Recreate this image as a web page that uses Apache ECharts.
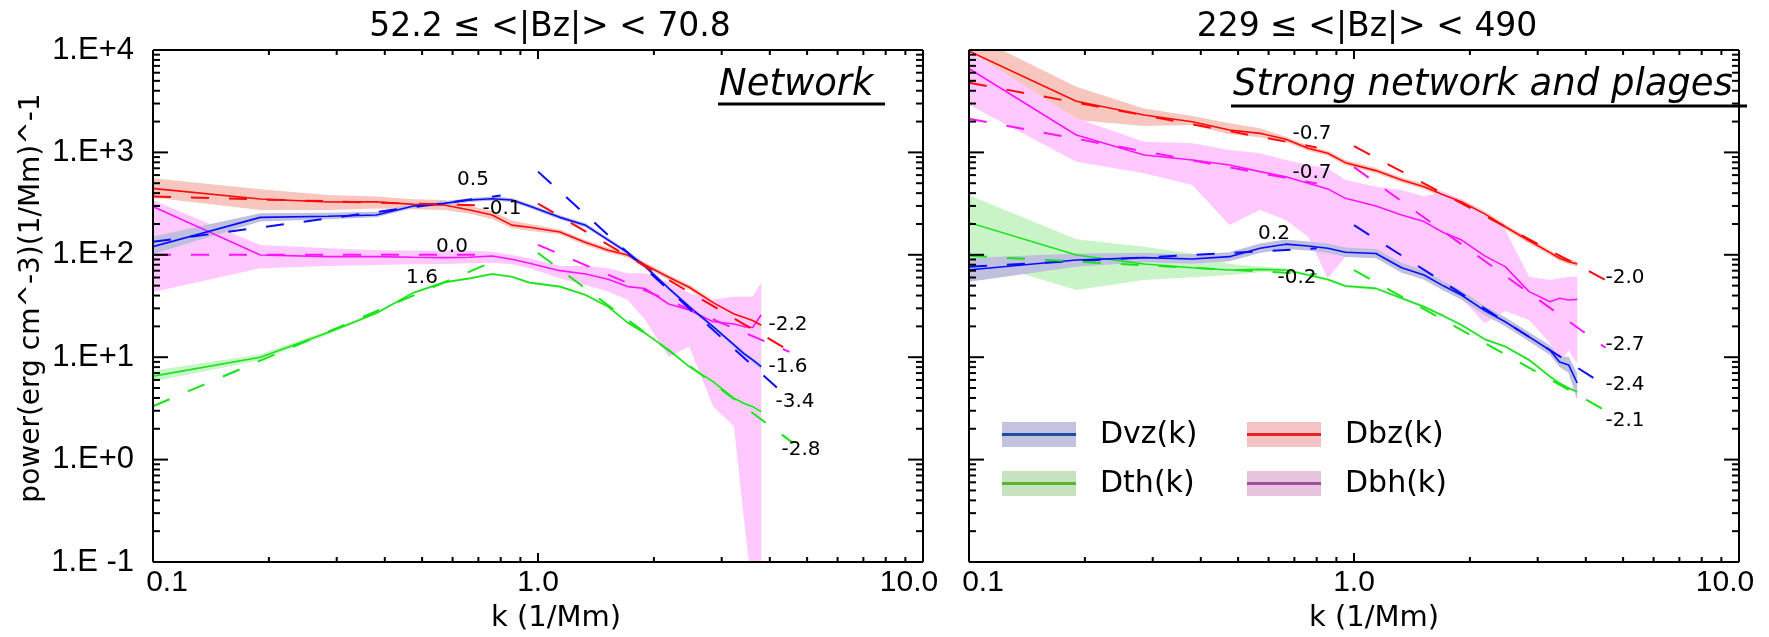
<!DOCTYPE html>
<html>
<head>
<meta charset="utf-8">
<script src="https://cdn.jsdelivr.net/npm/echarts@6/dist/echarts.min.js"></script>
<style>
  html, body { margin: 0; padding: 0; background: #fff; }
  #chart { width: 1769px; height: 637px; }
</style>
</head>
<body>
<div id="chart"></div>
<script>
// Wavenumbers of the spectral samples (1/Mm)
const kVals = [0.095, 0.19, 0.285, 0.38, 0.475, 0.57, 0.665, 0.76, 0.855, 0.95, 1.14, 1.33,
               1.52, 1.71, 1.90, 2.185, 2.47, 2.85, 3.23, 3.42, 3.61, 3.80];

// Network panel: power spectra with their spread
const netDvz   = [114, 232, 238, 245, 300, 318, 343, 353, 343, 300, 232, 194, 140, 105, 76.6, 47.1, 31.2, 19.9, 13.2, 10.9, 9.4, 8.1];
const netDvzLo = [96, 211, 222, 232, 286, 303, 327, 337, 327, 286, 221, 185, 134, 100, 73.1, 45.0, 29.8, 19.0, 12.6, 10.4, 8.9, 7.6];
const netDvzHi = [145, 254, 258, 264, 314, 333, 359, 370, 359, 314, 243, 203, 147, 110, 80.2, 49.3, 32.7, 20.8, 13.8, 11.4, 9.9, 8.6];

const netDbz   = [453, 351, 328, 330, 311, 307, 274, 245, 195, 186, 167, 132, 111, 99.5, 79.6, 60.3, 48.2, 34.1, 26.4, 24.5, 22.8, 20.5];
const netDbzLo = [370, 274, 274, 284, 278, 274, 251, 224, 182, 172, 158, 124, 105, 94, 75.2, 56.9, 45.5, 32.2, 24.9, 23.2, 21.2, 19.1];
const netDbzHi = [571, 437, 384, 370, 348, 343, 300, 268, 216, 200, 177, 139, 118, 105, 84.3, 63.8, 51.1, 36.1, 28.0, 26.0, 24.4, 21.9];

const netDth   = [6.3, 10.0, 17.4, 26.9, 42.7, 53.8, 58.9, 64.9, 61.1, 53.5, 48.9, 40.5, 31.2, 21.7, 17.1, 11.8, 8.1, 5.77, 3.97, 3.55, 3.29, 2.94];
const netDthLo = [5.56, 9.33, 16.6, 26.2, 41.5, 52.3, 57.3, 63.1, 59.4, 52.0, 47.6, 39.4, 30.3, 21.1, 16.6, 11.5, 7.9, 5.6, 3.86, 3.45, 3.2, 2.86];
const netDthHi = [7.16, 10.7, 18.2, 27.7, 43.9, 55.3, 60.5, 66.7, 62.8, 55.0, 50.3, 41.6, 32.1, 22.3, 17.6, 12.1, 8.3, 5.93, 4.08, 3.65, 3.38, 3.02];

const netDbh   = [323, 99.5, 95.9, 95.9, 94.6, 93.8, 94.6, 97.5, 90.4, 82.6, 70.0, 65.0, 57.7, 48.9, 46.8, 33.1, 28.9, 22.2, 21.1, 19.9, 19.5, 26];
const netDbhLo = [41.4, 73.8, 77.8, 79.6, 80.8, 81.3, 82.6, 83.8, 80.8, 73.8, 59.0, 50.7, 43.7, 36.2, 23.1, 10.1, 12.7, 3.3, 2.1, 0.28, 0.05, 0.05];
const netDbhHi = [370, 125, 116, 111, 110, 110, 110, 107, 99.6, 92.5, 77.8, 78.3, 73.8, 65.9, 65.9, 53.5, 42.1, 36.7, 39.0, 39.0, 39.0, 53.5];

// Strong network and plages panel
const plgDvz   = [70, 88.9, 93.8, 91, 95.9, 116, 127, 122, 116, 106, 103, 74.8, 63.5, 49.5, 40.5, 28.5, 22.2, 15.8, 11.7, 9.0, 8.4, 5.6];
const plgDvzLo = [53, 76.6, 84.4, 81.9, 86.3, 104, 114, 110, 104, 95.4, 92.7, 67.3, 57.2, 44.6, 36.5, 25.7, 20.0, 14.2, 10.5, 8.0, 7.0, 3.8];
const plgDvzHi = [92.3, 103, 104, 101, 106, 129, 141, 135, 129, 118, 114, 83.0, 70.5, 54.9, 45.0, 31.6, 24.6, 17.5, 13.0, 10.1, 10.1, 7.0];

const plgDbz   = [10700, 3160, 2320, 1995, 1655, 1535, 1342, 1096, 980, 794, 664, 537, 462, 384, 330, 251, 188, 137, 105, 92.5, 85.7, 81.3];
const plgDbzLo = [7590, 2070, 1811, 1853, 1503, 1403, 1267, 1035, 925, 750, 627, 507, 436, 362, 312, 237, 177, 129, 99, 87.3, 80.9, 76.7];
const plgDbzHi = [15800, 4385, 2690, 2270, 1923, 1718, 1423, 1162, 1039, 842, 704, 569, 490, 407, 350, 266, 199, 145, 111, 98, 90.8, 86.2];

const plgDth   = [219, 99.5, 81.3, 74.8, 71.1, 72.1, 71.1, 63.5, 57.5, 49.5, 47.0, 37.6, 31.1, 25.2, 20.7, 15.0, 12.7, 9.4, 6.46, 5.56, 4.97, 4.6];
const plgDthLo = [100, 45.3, 56.8, 60.3, 63.5, 67.6, 68.7, 61.3, 55.5, 47.8, 45.4, 36.3, 30.0, 24.3, 20.0, 14.5, 12.3, 9.1, 6.24, 5.37, 4.8, 4.44];
const plgDthHi = [414, 142, 120, 103, 81.3, 76.7, 73.6, 65.7, 59.5, 51.2, 48.6, 38.9, 32.2, 26.1, 21.4, 15.5, 13.1, 9.7, 6.69, 5.75, 5.14, 4.76];

const plgDbh   = [7410, 1479, 944, 843, 753, 649, 579, 499, 440, 356, 300, 245, 211, 164, 140, 97.7, 76.6, 43.7, 34.8, 37.6, 36.2, 36.7];
const plgDbhLo = [3240, 811, 625, 481, 195, 274, 219, 150, 58.9, 95.9, 95.9, 65.9, 63.5, 48.9, 37.6, 21.4, 28.2, 23.1, 13.7, 8.7, 11.7, 8.7];
const plgDbhHi = [11200, 2153, 1274, 1227, 1057, 980, 843, 753, 698, 537, 462, 430, 370, 414, 343, 254, 175, 61.1, 56.8, 58.9, 61.1, 61.1];

// Power-law fits P(k) = amp * k^slope over [from, to]
const netFitSeries = ['Dvz', 'Dbz', 'Dbh', 'Dth', 'Dbz', 'Dbh', 'Dvz', 'Dth'];
const netFitSlope  = [0.5, -0.1, 0.0, 1.6, -2.2, -1.6, -3.4, -2.8];
const netFitAmp    = [424, 294, 100, 132, 316, 125, 649, 104];
const netFitFrom   = [0.1, 0.1, 0.1, 0.1, 1.0, 1.0, 1.0, 1.0];
const netFitTo     = [0.8, 0.72, 0.74, 0.75, 4.5, 4.5, 4.25, 4.6];

const plgFitSeries = ['Dbz', 'Dbh', 'Dvz', 'Dth', 'Dbz', 'Dbh', 'Dvz', 'Dth'];
const plgFitSlope  = [-0.7, -0.7, 0.2, -0.2, -2.0, -2.7, -2.4, -2.1];
const plgFitAmp    = [957, 425, 121, 61.6, 1150, 718, 195, 71];
const plgFitFrom   = [0.1, 0.1, 0.1, 0.1, 1.0, 1.0, 1.0, 1.0];
const plgFitTo     = [0.8, 0.8, 0.8, 0.8, 4.5, 4.5, 4.3, 4.5];

const panelTitles = ['52.2 \u2264 <|Bz|> < 70.8', '229 \u2264 <|Bz|> < 490'];
const panelNotes  = ['Network', 'Strong network and plages'];
const legendNames = ['Dvz(k)', 'Dbz(k)', 'Dth(k)', 'Dbh(k)'];

// ---- layout and style ----
const X_MIN = 0.1, X_MAX = 10, Y_MIN = 0.1, Y_MAX = 10000;
const GRIDS = [
  { left: 153, top: 50, width: 770, height: 512 },
  { left: 969, top: 50, width: 770, height: 512 }
];
const LINE = { Dvz: '#0a0aff', Dbz: '#ff0a0a', Dth: '#18e418', Dbh: '#ff14ff' };
const BAND = { Dvz: '#bec0dd', Dbz: '#f7c6bf', Dth: '#c8f4c8', Dbh: '#ffc8ff' };
const SANS = '"DejaVu Sans"';
const netLabelAt = [[473, 180], [502, 209], [452, 247], [422, 278], [788, 325], [788, 367], [795, 402], [801, 450]];
const plgLabelAt = [[1312, 134], [1312, 173], [1274, 234], [1297, 278], [1625, 278], [1625, 345], [1625, 385], [1625, 421]];

const panels = [
  {
    spectra: {
      Dvz: [netDvz, netDvzLo, netDvzHi], Dbz: [netDbz, netDbzLo, netDbzHi],
      Dth: [netDth, netDthLo, netDthHi], Dbh: [netDbh, netDbhLo, netDbhHi]
    },
    fits: { series: netFitSeries, slope: netFitSlope, amp: netFitAmp, from: netFitFrom, to: netFitTo },
    labelAt: netLabelAt
  },
  {
    spectra: {
      Dvz: [plgDvz, plgDvzLo, plgDvzHi], Dbz: [plgDbz, plgDbzLo, plgDbzHi],
      Dth: [plgDth, plgDthLo, plgDthHi], Dbh: [plgDbh, plgDbhLo, plgDbhHi]
    },
    fits: { series: plgFitSeries, slope: plgFitSlope, amp: plgFitAmp, from: plgFitFrom, to: plgFitTo },
    labelAt: plgLabelAt
  }
];

function bandSeries(g, lo, hi, color, z) {
  return {
    type: 'custom', xAxisIndex: g, yAxisIndex: g, clip: true, silent: true, z: z,
    data: [[1, 1]],
    renderItem: function (params, api) {
      const pts = [];
      for (let i = 0; i < kVals.length; i++) pts.push(api.coord([kVals[i], hi[i]]));
      for (let i = kVals.length - 1; i >= 0; i--) pts.push(api.coord([kVals[i], lo[i]]));
      return { type: 'polygon', shape: { points: pts }, style: { fill: color } };
    }
  };
}

function tickValues(lo, hi) {
  const out = [];
  const e0 = Math.round(Math.log10(lo)), e1 = Math.round(Math.log10(hi));
  for (let e = e0; e < e1; e++) {
    for (let m = 1; m <= 9; m++) out.push([m * Math.pow(10, e), m === 1]);
  }
  out.push([hi, true]);
  return out;
}

// Box frame with inward ticks on all four sides
function frameSeries(g) {
  return {
    type: 'custom', xAxisIndex: g, yAxisIndex: g, clip: false, silent: true, z: 20,
    data: [[1, 1]],
    renderItem: function (params, api) {
      const kids = [];
      const seg = (x1, y1, x2, y2) => kids.push({
        type: 'line', shape: { x1: x1, y1: y1, x2: x2, y2: y2 },
        style: { stroke: '#000', lineWidth: 2 }
      });
      tickValues(X_MIN, X_MAX).forEach(([v, major]) => {
        const len = major ? 9 : 5;
        const b = api.coord([v, Y_MIN]), t = api.coord([v, Y_MAX]);
        seg(b[0], b[1], b[0], b[1] - len);
        seg(t[0], t[1], t[0], t[1] + len);
      });
      tickValues(Y_MIN, Y_MAX).forEach(([v, major]) => {
        const len = major ? 15 : 7;
        const l = api.coord([X_MIN, v]), r = api.coord([X_MAX, v]);
        seg(l[0], l[1], l[0] + len, l[1]);
        seg(r[0], r[1], r[0] - len, r[1]);
      });
      const a = api.coord([X_MIN, Y_MAX]), c = api.coord([X_MAX, Y_MIN]);
      seg(a[0], a[1], c[0], a[1]);
      seg(a[0], c[1], c[0], c[1]);
      seg(a[0], a[1], a[0], c[1]);
      seg(c[0], a[1], c[0], c[1]);
      return { type: 'group', children: kids };
    }
  };
}

const series = [];
const graphic = [];

panels.forEach((p, g) => {
  // shaded spreads
  ['Dbz', 'Dbh', 'Dth', 'Dvz'].forEach((name, j) => {
    const s = p.spectra[name];
    series.push(bandSeries(g, s[1], s[2], BAND[name], 1 + j * 0.1));
  });
  // spectra
  ['Dth', 'Dbh', 'Dbz', 'Dvz'].forEach((name) => {
    const s = p.spectra[name];
    series.push({
      type: 'line', xAxisIndex: g, yAxisIndex: g, name: name, silent: true, z: 3,
      data: kVals.map((x, i) => [x, s[0][i]]),
      symbol: 'none', showSymbol: false, clip: true,
      lineStyle: { color: LINE[name], width: 1.6 }
    });
  });
  // dashed power-law fits and their slope labels
  const f = p.fits;
  f.slope.forEach((sl, i) => {
    const pt = (kk) => [kk, f.amp[i] * Math.pow(kk, sl)];
    series.push({
      type: 'line', xAxisIndex: g, yAxisIndex: g, silent: true, z: 4,
      data: [pt(f.from[i]), pt(f.to[i])],
      symbol: 'none', showSymbol: false, clip: true,
      lineStyle: { color: LINE[f.series[i]], width: 2, type: [18, 20] }
    });
    graphic.push({
      type: 'text', x: p.labelAt[i][0], y: p.labelAt[i][1], z: 30, silent: true,
      style: { text: sl.toFixed(1), font: '20px ' + SANS, fill: '#000', textAlign: 'center', textVerticalAlign: 'middle' }
    });
  });
  series.push(frameSeries(g));
});

// Titles, axis names and panel notes
graphic.push(
  { type: 'text', x: 550, y: 27, style: { text: panelTitles[0], font: '33px ' + SANS, fill: '#000', textAlign: 'center', textVerticalAlign: 'middle' } },
  { type: 'text', x: 1367, y: 27, style: { text: panelTitles[1], font: '33px ' + SANS, fill: '#000', textAlign: 'center', textVerticalAlign: 'middle' } },
  { type: 'text', x: 556, y: 618, style: { text: 'k (1/Mm)', font: '29px ' + SANS, fill: '#000', textAlign: 'center', textVerticalAlign: 'middle' } },
  { type: 'text', x: 1374, y: 618, style: { text: 'k (1/Mm)', font: '29px ' + SANS, fill: '#000', textAlign: 'center', textVerticalAlign: 'middle' } },
  { type: 'text', x: 32, y: 298, rotation: Math.PI / 2, style: { text: 'power(erg cm^-3)(1/Mm)^-1', font: '28px ' + SANS, fill: '#000', textAlign: 'center', textVerticalAlign: 'middle' } },
  { type: 'text', x: 719, y: 85.5, style: { text: panelNotes[0], font: 'italic 37px ' + SANS, fill: '#000', textAlign: 'left', textVerticalAlign: 'middle' } },
  { type: 'line', shape: { x1: 718, y1: 104, x2: 885, y2: 104 }, style: { stroke: '#000', lineWidth: 3 } },
  { type: 'text', x: 1233, y: 85.5, style: { text: panelNotes[1], font: 'italic 37px ' + SANS, fill: '#000', textAlign: 'left', textVerticalAlign: 'middle' } },
  { type: 'line', shape: { x1: 1231, y1: 106, x2: 1747, y2: 106 }, style: { stroke: '#000', lineWidth: 3 } }
);

// Legend: shaded box with centre line, then the name
const legendSwatch = [
  { box: '#c3c3e1', line: '#1f4ea3' },
  { box: '#f5c3c3', line: '#e32420' },
  { box: '#c6e2bf', line: '#5bb52c' },
  { box: '#e7c4db', line: '#a04d9c' }
];
const legendCols = [1002, 1247], legendRows = [422, 471];
legendNames.forEach((nm, i) => {
  const x = legendCols[i % 2], y = legendRows[Math.floor(i / 2)];
  graphic.push(
    { type: 'rect', shape: { x: x, y: y, width: 74, height: 25 }, style: { fill: legendSwatch[i].box } },
    { type: 'line', shape: { x1: x, y1: y + 12.5, x2: x + 74, y2: y + 12.5 }, style: { stroke: legendSwatch[i].line, lineWidth: 3 } },
    { type: 'text', x: x + 98, y: y + 13, style: { text: nm, font: '30px ' + SANS, fill: '#000', textAlign: 'left', textVerticalAlign: 'middle' } }
  );
});

const tickFont = { fontFamily: 'Liberation Sans', color: '#000' };
const xAxes = GRIDS.map((gr, g) => ({
  type: 'log', logBase: 10, gridIndex: g, min: X_MIN, max: X_MAX,
  axisLine: { show: false }, axisTick: { show: false }, splitLine: { show: false },
  axisLabel: {
    show: true, margin: 6, fontSize: 30, fontFamily: 'Liberation Sans', color: '#000',
    showMinLabel: true, showMaxLabel: true,
    formatter: function (v) {
      const s = (+v).toFixed(1);
      if (v < 0.5) return '{lo|' + s + '}';
      if (v > 5) return '{hi|' + s + '}';
      return '{mid|' + s + '}';
    },
    rich: {
      lo: Object.assign({ fontSize: 30, padding: [0, 0, 0, 28] }, tickFont),
      mid: Object.assign({ fontSize: 30 }, tickFont),
      hi: Object.assign({ fontSize: 30, padding: [0, 28, 0, 0] }, tickFont)
    }
  }
}));
const yAxes = GRIDS.map((gr, g) => ({
  type: 'log', logBase: 10, gridIndex: g, min: Y_MIN, max: Y_MAX,
  axisLine: { show: false }, axisTick: { show: false }, splitLine: { show: false },
  axisLabel: {
    show: g === 0, margin: 19, fontSize: 31, fontFamily: 'Liberation Sans', color: '#000',
    showMinLabel: true, showMaxLabel: true,
    formatter: function (v) {
      const e = Math.round(Math.log10(v));
      return e >= 0 ? '1.E+' + e : '1.E -' + (-e);
    }
  }
}));

const chart = echarts.init(document.getElementById('chart'), null, { renderer: 'canvas' });
chart.setOption({
  animation: false,
  backgroundColor: '#ffffff',
  grid: GRIDS.map(gr => Object.assign({ containLabel: false, outerBoundsMode: 'none', show: false }, gr)),
  xAxis: xAxes,
  yAxis: yAxes,
  series: series,
  graphic: graphic
});
</script>
</body>
</html>
